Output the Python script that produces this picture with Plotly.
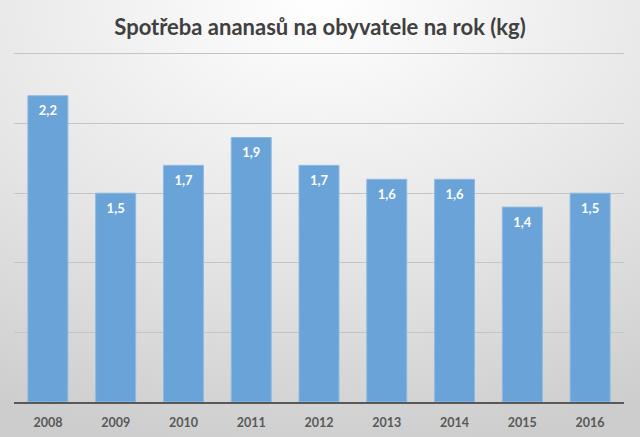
import base64

import plotly.graph_objects as go

years = ["2008", "2009", "2010", "2011", "2012", "2013", "2014", "2015", "2016"]
consumption = [2.2, 1.5, 1.7, 1.9, 1.7, 1.6, 1.6, 1.4, 1.5]
labels = [f"{v:.1f}".replace(".", ",") for v in consumption]

title = "Spotřeba ananasů na obyvatele na rok (kg)"

# radial grey background like the office chart style
bg_svg = (
    '<svg xmlns="http://www.w3.org/2000/svg" width="640" height="437" preserveAspectRatio="none">'
    '<defs><radialGradient id="g" cx="50%" cy="0%" r="105%" fx="50%" fy="0%">'
    '<stop offset="0" stop-color="#ffffff"/>'
    '<stop offset="0.55" stop-color="#e6e6e6"/>'
    '<stop offset="1" stop-color="#cdcdcd"/>'
    "</radialGradient></defs>"
    '<rect width="640" height="437" fill="url(#g)"/></svg>'
)
bg_uri = "data:image/svg+xml;base64," + base64.b64encode(bg_svg.encode()).decode()

fig = go.Figure()
fig.add_trace(
    go.Bar(
        x=years,
        y=consumption,
        marker=dict(color="#6aa3d7", line=dict(color="#8dbbe4", width=1)),
        hoverinfo="skip",
    )
)
# value labels just under the top of each bar
fig.add_trace(
    go.Scatter(
        x=years,
        y=consumption,
        text=labels,
        mode="markers+text",
        textposition="bottom center",
        marker=dict(size=14, opacity=0),
        textfont=dict(family="Lato", size=13, color="white", weight="bold"),
        hoverinfo="skip",
    )
)

W, H = 640, 437
ml, mr, mt, mb = 14, 16, 47, 35

fig.update_layout(
    width=W,
    height=H,
    margin=dict(l=ml, r=mr, t=mt, b=mb),
    paper_bgcolor="rgba(0,0,0,0)",
    plot_bgcolor="rgba(0,0,0,0)",
    bargap=0.41,
    showlegend=False,
    title=dict(
        text=title,
        x=0.5,
        xanchor="center",
        y=1 - 27 / H,
        yanchor="middle",
        font=dict(family="Lato", size=22, color="#404040", weight="bold"),
    ),
    images=[
        dict(
            source=bg_uri,
            xref="paper",
            yref="paper",
            x=-ml / (W - ml - mr),
            y=1 + mt / (H - mt - mb),
            sizex=W / (W - ml - mr),
            sizey=H / (H - mt - mb),
            sizing="stretch",
            xanchor="left",
            yanchor="top",
            layer="below",
        )
    ],
)

fig.update_xaxes(
    range=[-0.5, len(years) - 0.5],
    automargin=False,
    showline=True,
    linecolor="#595959",
    linewidth=2,
    ticks="",
    ticklabelstandoff=8,
    tickfont=dict(family="Lato", size=12.5, color="#595959", weight="bold"),
    showgrid=False,
)

fig.update_yaxes(
    range=[0, 2.55],
    dtick=0.5,
    automargin=False,
    showticklabels=False,
    showgrid=True,
    gridcolor="#c4c4c4",
    gridwidth=1,
    zeroline=False,
)

fig.write_html(
    "out.html",
    config={"displayModeBar": False},
    post_script="document.body.style.margin='0';",
)
